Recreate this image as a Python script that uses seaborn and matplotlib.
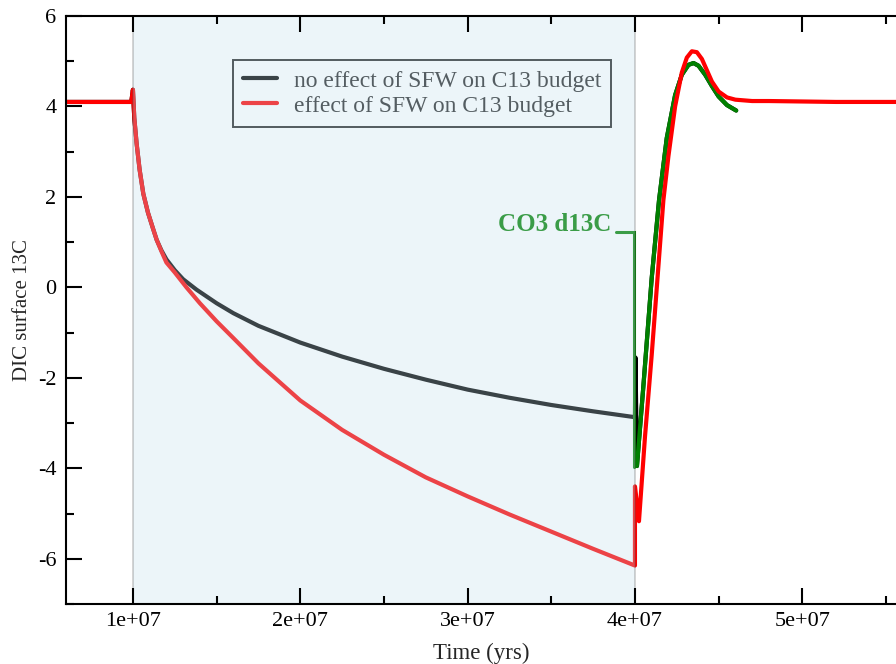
import matplotlib
matplotlib.use("Agg")
import matplotlib.pyplot as plt
import matplotlib.ticker as mticker
import seaborn as sns

# ── data (time in yrs) ───────────────────────────────────────────────────────
t_no_sfw = [0.60e7, 0.99e7, 1.00e7, 1.008e7, 1.022e7, 1.04e7, 1.062e7, 1.09e7,
            1.12e7, 1.142e7, 1.17e7, 1.20e7, 1.25e7, 1.30e7, 1.38e7, 1.50e7,
            1.60e7, 1.75e7, 2.00e7, 2.25e7, 2.50e7, 2.75e7, 3.00e7, 3.25e7,
            3.50e7, 3.75e7, 4.00e7, 4.003e7, 4.012e7, 4.05e7, 4.10e7, 4.144e7,
            4.19e7, 4.24e7, 4.28e7, 4.32e7, 4.35e7, 4.38e7, 4.42e7, 4.46e7,
            4.50e7, 4.55e7, 4.605e7]
dic_no_sfw = [4.10, 4.10, 4.37, 3.75, 3.18, 2.60, 2.07, 1.65,
              1.30, 1.05, 0.82, 0.62, 0.38, 0.18, -0.05, -0.35,
              -0.57, -0.85, -1.22, -1.53, -1.80, -2.04, -2.26, -2.44,
              -2.60, -2.74, -2.87, -1.55, -3.95, -2.20, 0.20, 1.93,
              3.30, 4.25, 4.70, 4.92, 4.96, 4.90, 4.70, 4.45,
              4.22, 4.03, 3.91]

t_sfw = [0.60e7, 0.99e7, 1.00e7, 1.008e7, 1.022e7, 1.04e7, 1.062e7, 1.09e7,
         1.12e7, 1.142e7, 1.17e7, 1.20e7, 1.25e7, 1.32e7, 1.40e7, 1.50e7,
         1.60e7, 1.75e7, 2.00e7, 2.25e7, 2.50e7, 2.75e7, 3.00e7, 3.25e7,
         3.50e7, 3.75e7, 4.00e7, 4.00e7, 4.024e7, 4.06e7, 4.10e7, 4.17e7,
         4.20e7, 4.24e7, 4.28e7, 4.31e7, 4.34e7, 4.37e7, 4.40e7, 4.43e7,
         4.46e7, 4.50e7, 4.55e7, 4.60e7, 4.70e7, 4.80e7, 5.20e7, 5.56e7]
dic_sfw = [4.10, 4.10, 4.37, 3.75, 3.18, 2.60, 2.07, 1.65,
           1.30, 1.05, 0.80, 0.55, 0.33, 0.00, -0.35, -0.75,
           -1.12, -1.68, -2.50, -3.15, -3.70, -4.20, -4.62, -5.02,
           -5.40, -5.78, -6.15, -4.40, -5.17, -3.30, -1.50, 1.93,
           2.90, 4.00, 4.75, 5.08, 5.22, 5.20, 5.05, 4.80,
           4.55, 4.33, 4.20, 4.15, 4.12, 4.12, 4.10, 4.10]

t_co3 = [4.012e7, 4.05e7, 4.10e7, 4.144e7, 4.19e7, 4.24e7, 4.28e7, 4.32e7,
         4.35e7, 4.38e7, 4.42e7, 4.46e7, 4.50e7, 4.55e7, 4.605e7]
co3_d13c = [-3.95, -2.20, 0.20, 1.93, 3.30, 4.25, 4.70, 4.92,
            4.96, 4.90, 4.70, 4.45, 4.22, 4.03, 3.91]

# label connector for the CO3 curve
label_x = [3.887e7, 3.995e7, 3.995e7]
label_y = [1.22, 1.22, -3.97]

legend_labels = ["no effect of SFW on C13 budget", "effect of SFW on C13 budget"]
event_start, event_end = 1.0e7, 4.0e7

# ── style ────────────────────────────────────────────────────────────────────
sns.set_theme(style="ticks")
plt.rcParams["font.family"] = ["Liberation Serif", "DejaVu Serif"]

fig = plt.figure(figsize=(8.96, 6.64), dpi=100)
ax = fig.add_axes([66 / 896, 60 / 664, 830 / 896, 588 / 664])

sns.lineplot(x=t_no_sfw, y=dic_no_sfw, sort=False, estimator=None, ax=ax,
             color="black", linewidth=3.0, zorder=3, label=legend_labels[0])
sns.lineplot(x=t_sfw, y=dic_sfw, sort=False, estimator=None, ax=ax,
             color="red", linewidth=3.0, zorder=3.2, label=legend_labels[1])
sns.lineplot(x=t_co3, y=co3_d13c, sort=False, estimator=None, ax=ax,
             color="green", linewidth=3.0, zorder=3.1, legend=False)
ax.plot(label_x, label_y, color="green", linewidth=2.2, zorder=3.1,
        solid_joinstyle="miter")
ax.text(3.86e7, 1.38, "CO3 d13C", color="green", fontsize=18,
        fontweight="bold", ha="right", va="center", zorder=3.1)

leg = ax.legend(loc="upper left", bbox_to_anchor=(0.201, 0.925),
                borderaxespad=0, fontsize=17, handlelength=1.45,
                handletextpad=0.7, borderpad=0.42, labelspacing=0.15,
                fancybox=False, framealpha=1.0, edgecolor="#222222",
                facecolor="white")
leg.get_frame().set_linewidth(1.4)
for h in leg.get_lines():
    h.set_linewidth(3.0)
leg.set_zorder(4)

# translucent event shading drawn over everything inside it
ax.axvspan(event_start, event_end, facecolor="#c1dfed", alpha=0.3,
           edgecolor="#555555", linewidth=1.2, zorder=5)

ax.set_xlim(0.6e7, 5.56e7)
ax.set_ylim(-7, 6)
ax.xaxis.set_major_locator(mticker.MultipleLocator(1e7))
ax.xaxis.set_minor_locator(mticker.MultipleLocator(0.5e7))
ax.yaxis.set_major_locator(mticker.MultipleLocator(2))
ax.yaxis.set_minor_locator(mticker.MultipleLocator(1))
ax.xaxis.set_major_formatter(
    mticker.FuncFormatter(lambda v, p: f"{int(round(v / 1e7))}e+07"))
ax.yaxis.set_major_formatter(mticker.FuncFormatter(lambda v, p: f"{int(v)}"))

ax.tick_params(which="both", direction="in", top=True, right=False,
               width=1.5, color="black", labelsize=16, labelcolor="black")
ax.tick_params(which="major", length=11.5)
ax.tick_params(which="minor", length=5.5)
ax.tick_params(axis="y", pad=7)
ax.tick_params(axis="x", pad=6)

for side in ("left", "bottom", "top"):
    ax.spines[side].set_linewidth(1.5)
    ax.spines[side].set_color("black")
    ax.spines[side].set_zorder(6)
ax.spines["right"].set_visible(False)
ax.xaxis.set_zorder(6)
ax.yaxis.set_zorder(6)

ax.set_xlabel("Time (yrs)", fontsize=16.5, labelpad=8)
ax.set_ylabel("DIC surface 13C", fontsize=15, labelpad=4)

fig.savefig("out.png", dpi=100)
plt.close(fig)
